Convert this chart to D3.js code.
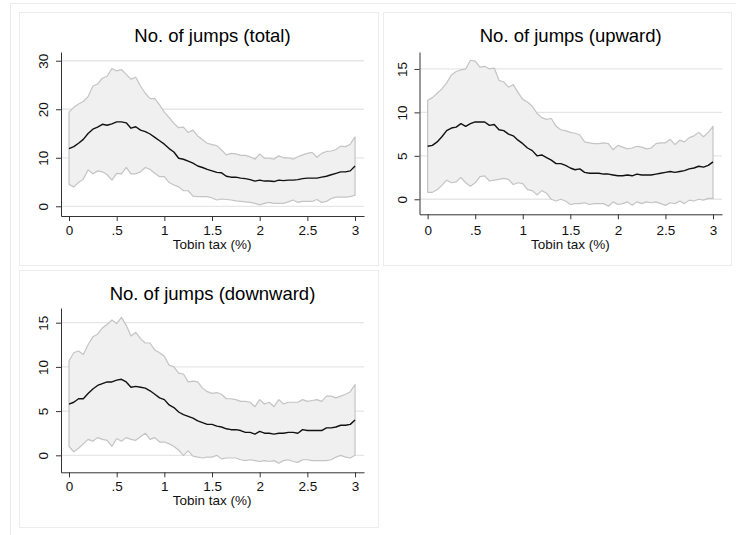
<!DOCTYPE html>
<html>
<head>
<meta charset="utf-8">
<script src="https://cdn.jsdelivr.net/npm/d3@7"></script>
<style>
  html, body { margin: 0; padding: 0; background: #fff; }
  svg { display: block; font-family: "Liberation Sans", Arial, sans-serif; }
</style>
</head>
<body>
<svg id="chart" width="736" height="535"></svg>
<script>
// Tobin tax grid (%), 0 to 3 in steps of 0.05
const taxRate = d3.range(61).map(i => +(i * 0.05).toFixed(2));

const xTickValues = [0, 0.5, 1, 1.5, 2, 2.5, 3];
const xTickLabels = ["0", ".5", "1", "1.5", "2", "2.5", "3"];

// Total jumps: mean and confidence band
const totalMean = [11.9,12.3,13.0,13.8,15.0,15.9,16.3,16.9,16.7,17.0,17.4,17.4,17.2,16.1,16.4,15.7,15.4,14.9,14.2,13.5,12.8,11.9,11.2,9.9,9.7,9.3,8.9,8.3,8.0,7.6,7.3,7.0,6.9,6.2,6.0,6.0,5.8,5.7,5.5,5.2,5.4,5.2,5.2,5.1,5.4,5.3,5.4,5.4,5.5,5.7,5.8,5.8,5.8,6.0,6.2,6.5,6.8,7.1,7.1,7.3,8.3];
const totalUpper = [19.4,20.4,21.1,21.6,22.6,24.8,25.2,26.4,26.8,28.4,27.9,28.2,27.2,26.2,26.6,24.8,23.3,22.2,22.2,20.9,19.4,18.3,17.1,16.2,16.3,15.2,15.7,14.5,13.7,13.0,12.7,12.5,11.6,10.6,10.9,10.8,10.5,10.5,10.2,9.7,10.8,9.9,9.9,9.7,10.4,10.0,10.0,9.7,10.2,10.6,10.9,11.1,10.1,10.9,11.3,11.4,11.7,12.4,12.3,12.8,14.3];
const totalLower = [4.5,4.0,4.9,5.6,7.5,6.7,7.3,7.1,6.5,5.4,6.8,6.7,8.0,6.7,6.7,7.1,8.0,7.6,6.8,6.1,6.1,4.9,4.4,4.0,3.2,3.2,2.1,2.0,2.0,2.0,1.7,1.3,1.5,1.4,1.3,1.1,1.0,0.9,0.8,0.6,0.3,0.6,0.8,0.6,0.6,0.6,0.9,1.3,0.8,1.0,1.0,1.0,1.4,0.8,1.0,1.6,1.9,1.9,1.9,2.0,2.3];

// Upward jumps
const upMean = [6.1,6.2,6.6,7.2,7.9,8.2,8.3,8.7,8.4,8.7,8.9,8.9,8.9,8.5,8.6,8.0,7.9,7.5,7.3,6.8,6.4,5.9,5.6,5.0,5.1,4.8,4.5,4.1,4.1,3.9,3.6,3.4,3.5,3.1,3.0,3.0,3.0,2.9,2.9,2.8,2.7,2.7,2.8,2.7,2.9,2.8,2.8,2.8,2.9,3.0,3.1,3.2,3.1,3.2,3.3,3.5,3.6,3.8,3.7,3.9,4.3];
const upUpper = [11.4,11.7,12.2,12.7,13.4,14.3,14.7,14.9,15.0,16.0,15.9,15.2,15.3,15.0,15.1,13.7,13.5,12.9,13.2,12.3,11.5,11.2,10.7,9.9,9.4,9.2,9.3,8.4,8.0,7.9,7.7,7.6,7.4,6.6,6.5,6.4,6.4,6.5,6.4,5.7,6.2,6.0,5.8,5.9,6.1,6.0,5.8,5.9,6.4,6.5,6.5,6.9,6.3,6.8,6.6,7.1,7.3,7.7,7.2,7.7,8.4];
const upLower = [0.8,0.8,1.1,1.6,2.2,1.9,2.0,2.5,1.9,1.5,1.9,2.6,2.7,2.1,2.2,2.3,2.4,2.3,1.7,1.9,1.8,1.1,1.0,0.5,1.0,0.7,0.0,-0.2,0.0,-0.2,-0.6,-0.5,-0.5,-0.4,-0.6,-0.5,-0.5,-0.5,-0.8,-0.3,-0.6,-0.5,-0.3,-0.7,-0.3,-0.5,-0.3,-0.4,-0.3,-0.5,-0.7,-0.4,-0.5,-0.2,-0.5,-0.1,-0.2,0.0,-0.1,0.1,0.1];

// Downward jumps
const downMean = [5.8,6.0,6.4,6.4,7.0,7.5,7.9,8.1,8.3,8.3,8.5,8.6,8.3,7.7,7.8,7.7,7.6,7.3,6.9,6.5,6.3,5.7,5.4,4.9,4.6,4.4,4.2,3.9,3.7,3.5,3.5,3.3,3.2,3.0,2.9,2.9,2.8,2.6,2.6,2.4,2.7,2.5,2.5,2.4,2.5,2.5,2.6,2.6,2.5,2.9,2.8,2.8,2.8,2.8,3.1,3.1,3.2,3.4,3.4,3.5,4.0];
const downUpper = [10.7,11.6,11.8,11.4,12.5,13.4,13.7,14.4,14.8,15.3,14.9,15.6,14.7,13.5,13.9,13.2,12.7,12.7,11.9,11.6,11.2,10.2,10.0,9.3,9.2,8.3,8.4,8.3,7.6,7.2,7.0,7.1,6.9,6.4,6.4,6.3,6.1,6.1,6.0,5.5,6.3,5.8,6.0,5.5,6.3,5.8,6.0,6.0,6.0,6.3,6.1,6.2,6.3,6.1,6.7,6.7,6.5,6.7,6.9,7.2,8.0];
const downLower = [1.0,0.4,0.8,1.3,1.8,1.6,2.0,1.8,1.7,1.0,1.9,1.6,2.0,1.8,1.7,2.1,2.5,1.8,2.0,1.5,1.5,1.3,1.0,0.6,0.0,0.5,-0.1,-0.2,-0.3,-0.2,-0.2,0.0,-0.4,-0.3,-0.3,-0.3,-0.5,-0.6,-0.5,-0.6,-0.7,-0.6,-0.7,-0.6,-0.9,-0.6,-0.5,-0.7,-0.8,-0.5,-0.5,-0.6,-0.6,-0.6,-0.6,-0.5,-0.2,0.0,-0.2,-0.3,0.0];

const panels = [
  { title: "No. of jumps (total)", mean: totalMean, upper: totalUpper, lower: totalLower,
    yTicks: [0, 10, 20, 30],
    box: [19.5, 12.5, 359, 253],
    xRange: [61, 364], xDomain: [-0.084, 3.094],
    yRange: [216, 52], yDomain: [-2.0, 31.8],
    titleY: 42, tickLabelY: 235, xTitleY: 249 },
  { title: "No. of jumps (upward)", mean: upMean, upper: upUpper, lower: upLower,
    yTicks: [0, 5, 10, 15],
    box: [383.5, 12.5, 348, 253],
    xRange: [419.5, 722], xDomain: [-0.0855, 3.0945],
    yRange: [214.3, 52], yDomain: [-1.73, 16.95],
    titleY: 42, tickLabelY: 235, xTitleY: 249 },
  { title: "No. of jumps (downward)", mean: downMean, upper: downUpper, lower: downLower,
    yTicks: [0, 5, 10, 15],
    box: [19.5, 270.5, 359, 257],
    xRange: [61, 364], xDomain: [-0.084, 3.094],
    yRange: [472.3, 308], yDomain: [-1.92, 16.66],
    titleY: 300, tickLabelY: 491, xTitleY: 505 }
];

const svg = d3.select("#chart");

// overall graph frame
svg.append("rect")
  .attr("x", 10.5).attr("y", 3.5).attr("width", 740).attr("height", 540)
  .attr("fill", "none").attr("stroke", "#ebebeb").attr("stroke-width", 1);

panels.forEach(p => {
  const g = svg.append("g");

  g.append("rect")
    .attr("x", p.box[0]).attr("y", p.box[1]).attr("width", p.box[2]).attr("height", p.box[3])
    .attr("fill", "#fff").attr("stroke", "#ececec").attr("stroke-width", 1);

  const x = d3.scaleLinear().domain(p.xDomain).range(p.xRange);
  const y = d3.scaleLinear().domain(p.yDomain).range(p.yRange);
  const plotCenter = (p.xRange[0] + p.xRange[1]) / 2;

  // horizontal grid lines
  g.append("g").selectAll("line").data(p.yTicks).join("line")
    .attr("x1", p.xRange[0]).attr("x2", p.xRange[1])
    .attr("y1", d => y(d)).attr("y2", d => y(d))
    .attr("stroke", "#e6e6e6").attr("stroke-width", 1.3);

  const rows = taxRate.map((t, i) => ({ t, m: p.mean[i], hi: p.upper[i], lo: p.lower[i] }));

  // confidence band
  const area = d3.area().x(d => x(d.t)).y0(d => y(d.lo)).y1(d => y(d.hi));
  g.append("path").datum(rows).attr("d", area)
    .attr("fill", "#f0f0f0").attr("stroke", "#c4c4c4").attr("stroke-width", 1.2)
    .attr("stroke-linejoin", "round");

  // mean line
  const line = d3.line().x(d => x(d.t)).y(d => y(d.m));
  g.append("path").datum(rows).attr("d", line)
    .attr("fill", "none").attr("stroke", "#111").attr("stroke-width", 1.4)
    .attr("stroke-linejoin", "round");

  // x axis
  const xAxis = d3.axisBottom(x).tickValues(xTickValues)
    .tickFormat((d, i) => xTickLabels[i]).tickSize(5).tickSizeOuter(0).tickPadding(4);
  const gx = g.append("g").attr("transform", `translate(0,${p.yRange[0]})`).call(xAxis);
  gx.select(".domain").attr("stroke", "#333");
  gx.selectAll(".tick line").attr("stroke", "#333");
  gx.selectAll(".tick text").remove();
  gx.selectAll(".tick").append("text")
    .attr("y", p.tickLabelY - p.yRange[0]).attr("text-anchor", "middle")
    .attr("fill", "#111").attr("font-size", 13.5)
    .text((d, i) => xTickLabels[i]);

  // y axis with rotated labels
  const yAxis = d3.axisLeft(y).tickValues(p.yTicks).tickFormat(d3.format("d"))
    .tickSize(5).tickSizeOuter(0);
  const gy = g.append("g").attr("transform", `translate(${p.xRange[0]},0)`).call(yAxis);
  gy.select(".domain").attr("stroke", "#333");
  gy.selectAll(".tick line").attr("stroke", "#333");
  gy.selectAll(".tick text").remove();
  gy.selectAll(".tick").append("text")
    .attr("transform", "translate(-13,0) rotate(-90)")
    .attr("text-anchor", "middle").attr("fill", "#111").attr("font-size", 13.5)
    .text(d => d);

  // titles, centred over the plot region
  g.append("text").attr("x", plotCenter).attr("y", p.titleY).attr("text-anchor", "middle")
    .attr("font-size", 18.5).attr("fill", "#000").text(p.title);
  g.append("text").attr("x", (x(0) + x(3)) / 2).attr("y", p.xTitleY).attr("text-anchor", "middle")
    .attr("font-size", 13.5).attr("fill", "#111").text("Tobin tax (%)");
});
</script>
</body>
</html>
